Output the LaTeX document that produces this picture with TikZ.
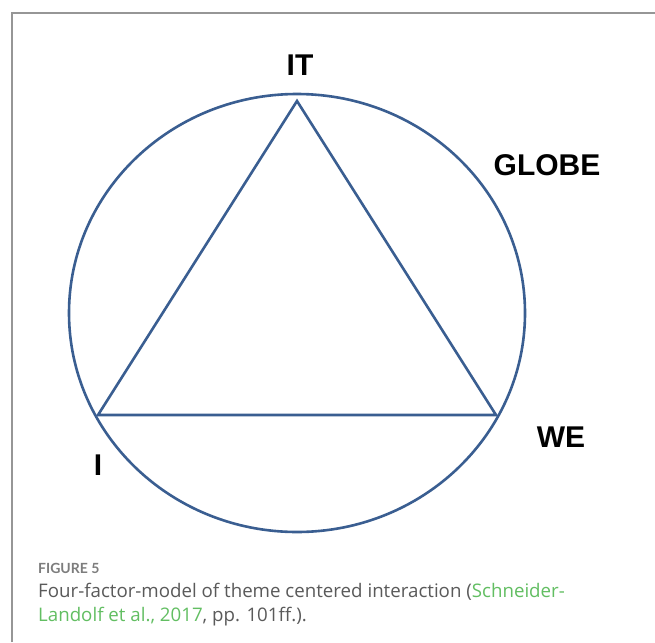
\documentclass[tikz,border=0pt]{standalone}
\usepackage{fontspec}
\usetikzlibrary{shapes.geometric}
\setmainfont{Liberation Sans}
\newfontfamily\capfont{Open Sans}
\newfontfamily\figfont{Lato}
\definecolor{ringblue}{RGB}{58,94,145}
\definecolor{framegray}{RGB}{150,150,150}
\definecolor{capgray}{RGB}{90,90,90}
\definecolor{figgray}{RGB}{125,125,125}
\definecolor{linkgreen}{RGB}{98,190,98}
\tikzset{
  shapeline/.style={draw=ringblue, line width=2.6pt, line join=miter},
  biglabel/.style={font=\fontsize{30}{34}\selectfont\bfseries, text=black, inner sep=0pt},
  captext/.style={font=\capfont\fontsize{18.7}{22}\selectfont, text=capgray, inner sep=0pt, anchor=base west},
  figlabel/.style={font=\figfont\bfseries\fontsize{14}{16}\selectfont, text=figgray, inner sep=0pt, anchor=base west}
}
\begin{document}
\begin{tikzpicture}[x=1pt,y=-1pt]
\useasboundingbox (0,0) rectangle (655,642);
\fill[white] (0,0) rectangle (655,642);
% frame
\draw[framegray, line width=1.2pt] (12,642) -- (12,13) -- (655,13);
% circle
\node[shapeline, ellipse, minimum width=456pt, minimum height=438pt, inner sep=0pt] (globe) at (297,313) {};
% triangle vertices
\coordinate (it) at (297,101);
\coordinate (i) at (98,415);
\coordinate (we) at (496,415);
\draw[shapeline] (it) -- (we) -- (i) -- cycle;
% labels
\node[biglabel] (itlab) at (300,65) {IT};
\node[biglabel] (globelab) at (547,165) {GLOBE};
\node[biglabel] (welab) at (561,437) {WE};
\node[biglabel] (ilab) at (98,465) {I};
% caption
\node[figlabel] (fig) at (38,573) {FIGURE 5};
\node[captext] (cap1) at (38,597) {Four-factor-model of theme centered interaction (\textcolor{linkgreen}{Schneider-}};
\node[captext] (cap2) at (38,621) {\textcolor{linkgreen}{Landolf et al., 2017}, pp. 101ff.).};
\end{tikzpicture}
\end{document}
